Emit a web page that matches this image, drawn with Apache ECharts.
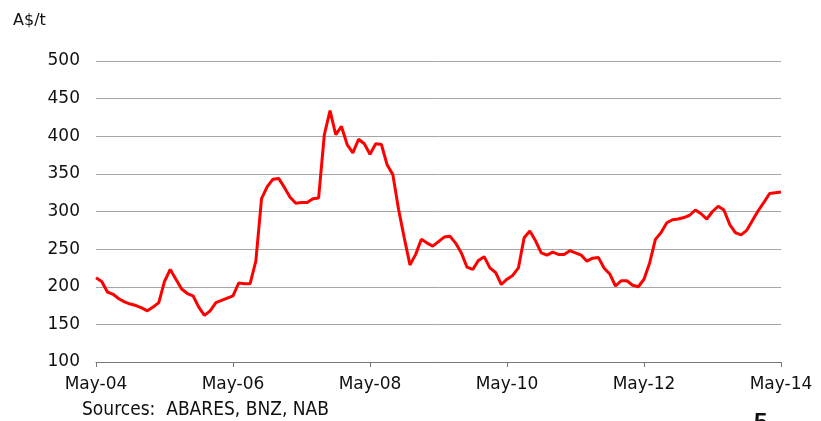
<!DOCTYPE html>
<html>
<head>
<meta charset="UTF-8">
<title>Price A$/t</title>
<script src="https://cdn.jsdelivr.net/npm/echarts@6/dist/echarts.min.js"></script>
<style>
  body { margin: 0; background: #fff; }
  #main { width: 821px; height: 421px; }
</style>
</head>
<body>
<div id="main"></div>
<script>
// monthly labels, May-04 .. May-14
var monthNames = ['May', 'Jun', 'Jul', 'Aug', 'Sep', 'Oct', 'Nov', 'Dec', 'Jan', 'Feb', 'Mar', 'Apr'];
var startYear = 4;
var yTicks = [100, 150, 200, 250, 300, 350, 400, 450, 500];

// A$/t, one value per month
var prices = [
  212, 207, 193, 190, 184, 180, 177, 175, 172, 168,
  173, 179, 207, 223, 210, 197, 191, 188, 173, 162,
  168, 179, 182, 185, 188, 205, 204, 204, 234, 317,
  333, 343, 344, 332, 319, 311, 312, 312, 317, 318,
  402, 434, 402, 413, 389, 378, 396, 390, 376, 390,
  389, 362, 349, 303, 265, 229, 243, 263, 258, 254,
  260, 266, 267, 258, 245, 226, 223, 235, 240, 225,
  219, 203, 210, 215, 225, 265, 274, 261, 245, 242,
  246, 243, 243, 248, 245, 242, 234, 238, 239, 225,
  217, 201, 208, 208, 202, 200, 210, 232, 263, 272,
  285, 289, 290, 292, 295, 302, 297, 290, 300, 307,
  302, 283, 272, 269, 275, 288, 301, 312, 324, 325,
  326
];

var categories = [];
for (var i = 0; i < prices.length; i++) {
  var m = i % 12;
  var yr = startYear + Math.floor(i / 12) + (m >= 8 ? 1 : 0);
  categories.push(monthNames[m] + '-' + (yr < 10 ? '0' + yr : '' + yr));
}

var myChart = echarts.init(document.getElementById('main'));
var labelFont = "'DejaVu Sans', sans-serif";

var option = {
  animation: false,
  backgroundColor: '#fff',
  grid: { left: 96, right: 40, top: 61, bottom: 59 },
  graphic: [
    { type: 'text', left: 13, top: 13,
      style: { text: 'A$/t', font: "16px 'DejaVu Sans', sans-serif", fill: '#111' } },
    { type: 'text', left: 82, top: 401,
      style: { text: 'Sources:  ABARES, BNZ, NAB', font: "19px 'DejaVu Sans Condensed', 'Liberation Sans Narrow', 'Liberation Sans', sans-serif", fill: '#111' } },
    { type: 'text', left: 754, top: 411,
      style: { text: '5', font: "bold 24px 'Liberation Sans', sans-serif", fill: '#111' } }
  ],
  xAxis: {
    type: 'category',
    boundaryGap: false,
    data: categories,
    axisLine: { lineStyle: { color: '#777', width: 1 } },
    axisTick: { show: true, interval: 23, length: 5, lineStyle: { color: '#777' } },
    axisLabel: {
      interval: 23,
      color: '#111',
      fontSize: 17,
      fontFamily: labelFont,
      margin: 14
    },
    splitLine: { show: false }
  },
  yAxis: {
    type: 'value',
    min: yTicks[0],
    max: yTicks[yTicks.length - 1],
    interval: 50,
    axisLine: { show: false },
    axisTick: { show: false },
    axisLabel: {
      color: '#111',
      fontSize: 17,
      fontFamily: labelFont,
      margin: 16
    },
    splitLine: { lineStyle: { color: '#a6a6a6', width: 1 } }
  },
  series: [{
    name: 'Price',
    type: 'line',
    data: prices,
    symbol: 'none',
    smooth: false,
    lineStyle: { color: '#ff0000', width: 3 },
    z: 3
  }]
};

myChart.setOption(option);
</script>
</body>
</html>
